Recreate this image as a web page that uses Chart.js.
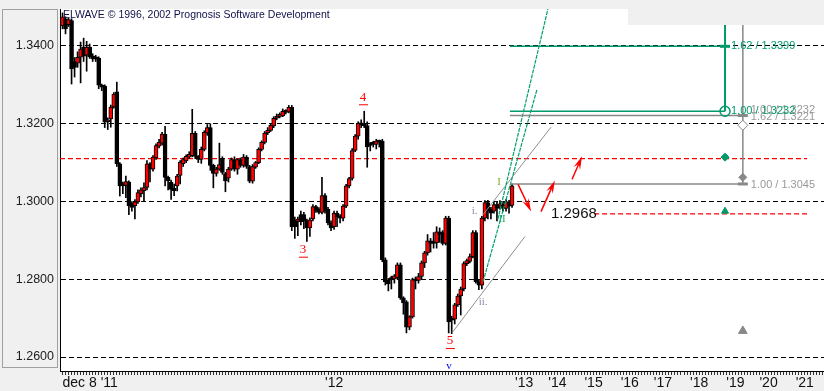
<!DOCTYPE html>
<html>
<head>
<meta charset="utf-8">
<script src="https://cdn.jsdelivr.net/npm/chart.js@4"></script>
<style>
  html, body { margin: 0; padding: 0; background: #f0f0f0; }
  canvas { display: block; }
</style>
</head>
<body>
<canvas id="waveChart" width="824" height="391"></canvas>
<script>
// -------------------------------
// 1) DATA
// -------------------------------

// hourly candles (EUR/USD-like price)
const opens = [
  1.3452, 1.3470, 1.3455, 1.3465, 1.3360, 1.3356, 1.3371, 1.3397, 1.3376, 1.3397,
  1.3374, 1.3372, 1.3369, 1.3299, 1.3297, 1.3205, 1.3212, 1.3243, 1.3282, 1.3097,
  1.3046, 1.3041, 1.3050, 1.2995, 1.2989, 1.2999, 1.3020, 1.3028, 1.3036, 1.3097,
  1.3083, 1.3112, 1.3142, 1.3150, 1.3173, 1.3062, 1.3050, 1.3034, 1.3040, 1.3067,
  1.3097, 1.3104, 1.3114, 1.3118, 1.3175, 1.3116, 1.3108, 1.3134, 1.3176, 1.3190,
  1.3093, 1.3072, 1.3083, 1.3111, 1.3072, 1.3060, 1.3083, 1.3108, 1.3083, 1.3108,
  1.3093, 1.3114, 1.3090, 1.3052, 1.3088, 1.3100, 1.3134, 1.3152, 1.3176, 1.3183,
  1.3194, 1.3214, 1.3219, 1.3220, 1.3232, 1.3230, 1.3242, 1.2953, 1.2948, 1.2966,
  1.2966, 1.2950, 1.2932, 1.2955, 1.2987, 1.2980, 1.2972, 1.3015, 1.2980, 1.2945,
  1.2935, 1.2970, 1.2962, 1.2957, 1.2988, 1.3040, 1.3059, 1.3131, 1.3168, 1.3201,
  1.3200, 1.3195, 1.3149, 1.3152, 1.3147, 1.3155, 1.3155, 1.2850, 1.2798, 1.2804,
  1.2801, 1.2804, 1.2837, 1.2752, 1.2742, 1.2677, 1.2703, 1.2801, 1.2797, 1.2807,
  1.2842, 1.2868, 1.2899, 1.2897, 1.2894, 1.2922, 1.2920, 1.2892, 1.2957, 1.2700,
  1.2697, 1.2734, 1.2757, 1.2775, 1.2840, 1.2846, 1.2858, 1.2920, 1.2793, 1.2785,
  1.2957, 1.2997, 1.2980, 1.2975, 1.2992, 1.2988, 1.2994, 1.2982, 1.2998, 1.2990
];
const highs = [
  1.3485, 1.3475, 1.3472, 1.3470, 1.3370, 1.3385, 1.3410, 1.3420, 1.3412, 1.3405,
  1.3380, 1.3376, 1.3372, 1.3302, 1.3300, 1.3215, 1.3248, 1.3280, 1.3307, 1.3100,
  1.3050, 1.3065, 1.3053, 1.3000, 1.3005, 1.3030, 1.3035, 1.3048, 1.3105, 1.3100,
  1.3118, 1.3148, 1.3160, 1.3178, 1.3193, 1.3065, 1.3055, 1.3045, 1.3070, 1.3105,
  1.3112, 1.3120, 1.3128, 1.3237, 1.3180, 1.3118, 1.3140, 1.3182, 1.3198, 1.3200,
  1.3096, 1.3088, 1.3150, 1.3115, 1.3075, 1.3088, 1.3112, 1.3115, 1.3110, 1.3112,
  1.3121, 1.3118, 1.3093, 1.3095, 1.3103, 1.3138, 1.3156, 1.3180, 1.3190, 1.3200,
  1.3218, 1.3225, 1.3228, 1.3238, 1.3236, 1.3247, 1.3247, 1.2960, 1.2960, 1.2975,
  1.2972, 1.2955, 1.2958, 1.2992, 1.2990, 1.2984, 1.3062, 1.3020, 1.2985, 1.2950,
  1.2975, 1.2975, 1.2966, 1.2992, 1.3044, 1.3062, 1.3136, 1.3172, 1.3205, 1.3210,
  1.3232, 1.3205, 1.3152, 1.3155, 1.3160, 1.3158, 1.3160, 1.2855, 1.2802, 1.2808,
  1.2812, 1.2842, 1.2842, 1.2755, 1.2745, 1.2706, 1.2803, 1.2806, 1.2815, 1.2847,
  1.2872, 1.2915, 1.2905, 1.2920, 1.2935, 1.2932, 1.2925, 1.2962, 1.2962, 1.2705,
  1.2738, 1.2762, 1.2780, 1.2845, 1.2852, 1.2865, 1.2925, 1.2925, 1.2797, 1.2962,
  1.3002, 1.3003, 1.2985, 1.2998, 1.3000, 1.3002, 1.3000, 1.3005, 1.3003, 1.3045
];
const lows = [
  1.3444, 1.3431, 1.3450, 1.3302, 1.3320, 1.3345, 1.3305, 1.3360, 1.3335, 1.3368,
  1.3360, 1.3360, 1.3290, 1.3285, 1.3190, 1.3185, 1.3191, 1.3240, 1.3090, 1.3014,
  1.3020, 1.3010, 1.2966, 1.2975, 1.2955, 1.2995, 1.3012, 1.3000, 1.3030, 1.3050,
  1.3078, 1.3108, 1.3138, 1.3145, 1.3040, 1.3030, 1.3005, 1.3015, 1.3027, 1.3045,
  1.3090, 1.3100, 1.3110, 1.3115, 1.3110, 1.3100, 1.3098, 1.3130, 1.3170, 1.3080,
  1.3035, 1.3065, 1.3080, 1.3070, 1.3025, 1.3050, 1.3080, 1.3078, 1.3070, 1.3088,
  1.3088, 1.3085, 1.3048, 1.3047, 1.3085, 1.3097, 1.3130, 1.3148, 1.3172, 1.3180,
  1.3190, 1.3210, 1.3215, 1.3218, 1.3225, 1.3228, 1.2925, 1.2905, 1.2912, 1.2940,
  1.2930, 1.2897, 1.2910, 1.2950, 1.2972, 1.2968, 1.2968, 1.2970, 1.2940, 1.2925,
  1.2928, 1.2935, 1.2945, 1.2950, 1.2984, 1.3035, 1.3055, 1.3128, 1.3160, 1.3190,
  1.3190, 1.3088, 1.3130, 1.3140, 1.3135, 1.3140, 1.2845, 1.2785, 1.2770, 1.2775,
  1.2790, 1.2800, 1.2748, 1.2710, 1.2662, 1.2670, 1.2700, 1.2775, 1.2790, 1.2800,
  1.2830, 1.2862, 1.2870, 1.2880, 1.2880, 1.2895, 1.2888, 1.2888, 1.2662, 1.2660,
  1.2685, 1.2730, 1.2708, 1.2770, 1.2835, 1.2842, 1.2855, 1.2790, 1.2773, 1.2775,
  1.2950, 1.2955, 1.2955, 1.2970, 1.2950, 1.2980, 1.2975, 1.2975, 1.2970, 1.2985
];
const closes = [
  1.3475, 1.3444, 1.3468, 1.3341, 1.3345, 1.3371, 1.3392, 1.3374, 1.3397, 1.3372,
  1.3367, 1.3366, 1.3299, 1.3294, 1.3204, 1.3210, 1.3243, 1.3276, 1.3097, 1.3040,
  1.3040, 1.3051, 1.2989, 1.2985, 1.2999, 1.3023, 1.3030, 1.3036, 1.3097, 1.3083,
  1.3114, 1.3144, 1.3152, 1.3173, 1.3062, 1.3053, 1.3031, 1.3028, 1.3065, 1.3101,
  1.3108, 1.3116, 1.3121, 1.3175, 1.3116, 1.3108, 1.3134, 1.3178, 1.3190, 1.3093,
  1.3072, 1.3083, 1.3095, 1.3075, 1.3053, 1.3083, 1.3108, 1.3083, 1.3108, 1.3093,
  1.3114, 1.3090, 1.3052, 1.3090, 1.3100, 1.3134, 1.3152, 1.3176, 1.3183, 1.3196,
  1.3214, 1.3219, 1.3224, 1.3232, 1.3229, 1.3242, 1.2935, 1.2935, 1.2955, 1.2948,
  1.2950, 1.2932, 1.2953, 1.2987, 1.2977, 1.2972, 1.3015, 1.2975, 1.2945, 1.2932,
  1.2970, 1.2960, 1.2957, 1.2988, 1.3040, 1.3059, 1.3131, 1.3168, 1.3201, 1.3197,
  1.3195, 1.3140, 1.3144, 1.3147, 1.3155, 1.3152, 1.2850, 1.2793, 1.2788, 1.2799,
  1.2809, 1.2837, 1.2752, 1.2739, 1.2677, 1.2703, 1.2799, 1.2796, 1.2807, 1.2842,
  1.2868, 1.2899, 1.2892, 1.2892, 1.2922, 1.2915, 1.2892, 1.2957, 1.2690, 1.2695,
  1.2734, 1.2757, 1.2775, 1.2840, 1.2848, 1.2858, 1.2920, 1.2793, 1.2785, 1.2957,
  1.2997, 1.2975, 1.2970, 1.2992, 1.2982, 1.2994, 1.2982, 1.3000, 1.2988, 1.3040
];

// axes
const yTicks = [1.26, 1.28, 1.30, 1.32, 1.34];
const xTickPos = [0, 87, 150, 161, 173, 185, 196, 208, 220, 231, 243];
const xTickLabels = ["dec 8 '11", "'12", "'13", "'14", "'15", "'16", "'17", "'18", "'19", "'20", "'21"];

// levels (price)
const supportLevel = 1.3110;
const targetLevel = 1.2968;
const greenFibLevels = [1.3399, 1.3232];
const greyFibLevels = [1.3221, 1.3045];
const greenFibText = ["1.62 / 1.3399", "1.00 / 1.3232"];
const greyFibText = ["1.00 / 1.3232", "1.62 / 1.3221", "1.00 / 1.3045"];
const greyFibTextLevels = [1.3232, 1.3221, 1.3045];

// columns (bar index units)
const fibStartX = 148.3;
const greenColX = 219.6;
const greyColX = 225.5;
const levelEndX = 246.8;
const targetStartX = 176.2;
const targetTextX = 161.9;

// markers on the fib columns
const greenDashMarks = [1.3399];
const greenRingMarks = [1.3232];
const greenDiamondMarks = [1.3114];
const greenTriangleMarks = [1.2975];
const greyDashMarks = [1.3221, 1.3045];
const greyHollowMarks = [1.3196];
const greyDiamondMarks = [1.3062];
const greyTriangleMarks = [1.2667];

// trend lines [x, price]
const greenTrendA = [[139.4, 1.2794], [157.3, 1.3289]];
const greenTrendB = [[144.3, 1.2954], [160.9, 1.3495]];
const greyTrendLow = [[129.1, 1.2662], [153.3, 1.2910]];
const greyTrendHigh = [[139.4, 1.2966], [161.9, 1.3191]];

// red arrows [x1, p1, x2, p2]
const arrows = [
  [151.0, 1.3044, 155.3, 1.2974],
  [158.6, 1.2974, 163.2, 1.3054],
  [168.9, 1.3057, 172.2, 1.3116]
];

// wave count labels
const waveText = ["3", "4", "5", "v", "I", "II", "i.", "ii."];
const waveX = [79.7, 99.6, 128.4, 128.1, 144.7, 145.7, 136.6, 139.4];
const waveY = [1.2876, 1.3268, 1.2641, 1.2577, 1.3049, 1.2954, 1.2976, 1.2742];
const waveColor = ["#ff0000", "#ff0000", "#ff0000", "#0000ff", "#88aa33", "#22aa66", "#8a88a8", "#8a88a8"];

const GREEN = "#00996b";
const GREY = "#888888";


// -------------------------------
// 2) HELPERS
// -------------------------------

function seg(points) {
  return points.map(p => ({ x: p[0], y: p[1] }));
}

function markerSet(values, xPos, style, radius, fill, stroke, bw) {
  return {
    type: "line",
    data: values.map(v => ({ x: xPos, y: v })),
    showLine: false,
    pointStyle: style,
    pointRadius: radius,
    pointBackgroundColor: fill,
    pointBorderColor: stroke,
    pointBorderWidth: bw,
    order: 0
  };
}

function lineSet(points, color, width, dash, order) {
  return {
    type: "line",
    data: seg(points),
    borderColor: color,
    borderWidth: width,
    borderDash: dash || [],
    pointRadius: 0,
    fill: false,
    tension: 0,
    order: order
  };
}

function drawArrow(ctx, x1, y1, x2, y2) {
  const a = Math.atan2(y2 - y1, x2 - x1);
  const len = 13, half = 3.5;
  ctx.beginPath();
  ctx.moveTo(x1, y1);
  ctx.lineTo(x2 - Math.cos(a) * len * 0.6, y2 - Math.sin(a) * len * 0.6);
  ctx.stroke();
  ctx.beginPath();
  ctx.moveTo(x2, y2);
  ctx.lineTo(x2 - len * Math.cos(a) + half * Math.sin(a), y2 - len * Math.sin(a) - half * Math.cos(a));
  ctx.lineTo(x2 - len * Math.cos(a) * 0.65, y2 - len * Math.sin(a) * 0.65);
  ctx.lineTo(x2 - len * Math.cos(a) - half * Math.sin(a), y2 - len * Math.sin(a) + half * Math.cos(a));
  ctx.closePath();
  ctx.fill();
}


// -------------------------------
// 3) DECORATION PLUGIN
// -------------------------------

const elwavePlugin = {
  id: "elwave",
  beforeDraw(chart) {
    const { ctx, chartArea: a } = chart;
    ctx.save();
    ctx.fillStyle = "#f0f0f0";
    ctx.fillRect(0, 0, chart.width, chart.height);
    ctx.fillStyle = "#ffffff";
    ctx.fillRect(a.left, a.top, a.right - a.left, a.bottom - a.top);
    // y label panel frame
    ctx.strokeStyle = "#a0a0a0";
    ctx.lineWidth = 1;
    ctx.strokeRect(2.5, a.top + 0.5, a.left - 5, 358);
    ctx.restore();
  },
  afterDatasetsDraw(chart) {
    const { ctx, chartArea: a } = chart;
    const xs = chart.scales.x, ys = chart.scales.y;
    const px = v => xs.getPixelForValue(v);
    const py = v => ys.getPixelForValue(v);

    ctx.save();

    // red arrows
    ctx.strokeStyle = "#ff0000";
    ctx.fillStyle = "#ff0000";
    ctx.lineWidth = 1.5;
    arrows.forEach(r => drawArrow(ctx, px(r[0]), py(r[1]), px(r[2]), py(r[3])));

    // fib texts
    ctx.font = "11px 'Liberation Sans', Arial, sans-serif";
    ctx.textBaseline = "middle";
    ctx.textAlign = "left";
    ctx.fillStyle = "#999999";
    greyFibText.forEach((t, i) => ctx.fillText(t, px(greyColX) + 8, py(greyFibTextLevels[i]) + (i === 0 ? -1 : 1)));
    ctx.fillStyle = GREEN;
    greenFibText.forEach((t, i) => ctx.fillText(t, px(greenColX) + 6, py(greenFibLevels[i])));

    // target label
    ctx.fillStyle = "#111111";
    ctx.font = "15px 'Liberation Sans', Arial, sans-serif";
    ctx.fillText(targetLevel.toFixed(4), px(targetTextX), py(targetLevel));

    // wave labels
    ctx.textAlign = "center";
    waveText.forEach((t, i) => {
      const big = i < 3;
      ctx.font = (big ? "13px" : "11px") + " 'Liberation Serif', 'Times New Roman', serif";
      ctx.fillStyle = waveColor[i];
      const x = px(waveX[i]), y = py(waveY[i]);
      ctx.fillText(t, x, y);
      if (big) {
        ctx.fillRect(x - 4, y + 7, 9, 1);
      }
    });

    // grey corner box
    ctx.fillStyle = "#f0f0f0";
    ctx.fillRect(628, 0, chart.width - 628, 25);

    // copyright line
    ctx.font = "10.5px 'Liberation Sans', Arial, sans-serif";
    ctx.textAlign = "left";
    ctx.fillStyle = "#10104a";
    ctx.fillText("ELWAVE \u00a9 1996, 2002 Prognosis Software Development", a.left + 3, a.top + 6);

    ctx.restore();
  }
};


// -------------------------------
// 4) CHART
// -------------------------------

function renderWaveChart() {
  const canvas = document.getElementById("waveChart");
  const ctx = canvas.getContext("2d");

  const bodies = opens.map((o, i) => ({ x: i, y: [o, closes[i]] }));
  const wicks = highs.map((h, i) => ({ x: i, y: [lows[i], h] }));
  const bodyColors = opens.map((o, i) => (closes[i] >= o ? "#ff0000" : "#000000"));

  new Chart(ctx, {
    type: "bar",
    data: {
      datasets: [
        // markers
        markerSet(greenDashMarks, greenColX, "line", 5, GREEN, GREEN, 3),
        markerSet(greenRingMarks, greenColX, "circle", 5, "rgba(0,0,0,0)", GREEN, 1.5),
        markerSet(greenDiamondMarks, greenColX, "rectRot", 4, GREEN, GREEN, 1),
        markerSet(greenTriangleMarks, greenColX, "triangle", 4, GREEN, GREEN, 1),
        markerSet(greyDashMarks, greyColX, "line", 5, GREY, GREY, 3),
        markerSet(greyHollowMarks, greyColX, "rectRot", 5, "#ffffff", GREY, 1),
        markerSet(greyDiamondMarks, greyColX, "rectRot", 4, GREY, GREY, 1),
        markerSet(greyTriangleMarks, greyColX, "triangle", 5, GREY, GREY, 1),

        // fib lines
        lineSet([[fibStartX, greenFibLevels[0]], [greenColX, greenFibLevels[0]]], GREEN, 1.5, null, 1),
        lineSet([[fibStartX, greenFibLevels[1]], [greenColX, greenFibLevels[1]]], GREEN, 1.5, null, 1),
        lineSet([[fibStartX, greyFibLevels[0]], [greyColX, greyFibLevels[0]]], GREY, 1.5, null, 1),
        lineSet([[fibStartX, greyFibLevels[1]], [greyColX, greyFibLevels[1]]], GREY, 1.5, null, 1),
        lineSet([[greenColX, 1.3495], [greenColX, greenFibLevels[1]]], GREEN, 2, null, 1),
        lineSet([[greyColX, 1.3495], [greyColX, greyFibLevels[1]]], GREY, 1.5, null, 1),

        // trend channel
        lineSet(greenTrendA, "#00a070", 1.2, [4, 1], 1),
        lineSet(greenTrendB, "#00a070", 1.2, [4, 1], 1),
        lineSet(greyTrendLow, "#909090", 1, null, 1),
        lineSet(greyTrendHigh, "#909090", 1, null, 1),

        // candles
        {
          label: "body",
          data: bodies,
          backgroundColor: bodyColors,
          borderColor: "#000000",
          borderWidth: 1,
          borderSkipped: false,
          barThickness: 4,
          minBarLength: 2,
          grouped: false,
          order: 2
        },
        {
          label: "wick",
          data: wicks,
          backgroundColor: "#000000",
          barThickness: 1,
          grouped: false,
          order: 3
        },

        // red dashed levels
        lineSet([[-0.83, supportLevel], [levelEndX, supportLevel]], "#ff0000", 1.2, [5, 3], 4),
        lineSet([[targetStartX, targetLevel], [levelEndX, targetLevel]], "#ff0000", 1.2, [5, 3], 4)
      ]
    },
    options: {
      responsive: false,
      animation: false,
      devicePixelRatio: 1,
      layout: { autoPadding: false, padding: { top: 9, left: 0, right: 0, bottom: 0 } },
      plugins: {
        legend: { display: false },
        tooltip: { enabled: false }
      },
      scales: {
        x: {
          type: "linear",
          min: -0.83,
          max: 252.4,
          offset: false,
          afterFit: s => {
            s.height = 20;
            s.paddingLeft = 0;
            s.paddingRight = 0;
          },
          afterBuildTicks: s => {
            const t = [];
            for (let v = 0; v <= 252; v++) t.push({ value: v });
            s.ticks = t;
          },
          ticks: {
            autoSkip: false,
            maxRotation: 0,
            minRotation: 0,
            align: "start",
            padding: 0,
            color: "#111111",
            font: { family: "'Liberation Sans', Arial, sans-serif", size: 14 },
            callback: v => {
              const k = xTickPos.indexOf(v);
              return k >= 0 ? xTickLabels[k] : "";
            }
          },
          grid: {
            drawOnChartArea: false,
            drawTicks: true,
            tickLength: 4,
            color: "#333333",
            offset: false
          },
          border: { display: true, color: "#000000" }
        },
        y: {
          type: "linear",
          min: 1.2564,
          max: 1.3495,
          afterFit: s => {
            s.width = 60;
            s.paddingTop = 0;
            s.paddingBottom = 0;
          },
          afterBuildTicks: s => { s.ticks = yTicks.map(v => ({ value: v })); },
          ticks: {
            padding: 6,
            color: "#202020",
            font: { family: "'Liberation Sans', Arial, sans-serif", size: 12.5 },
            callback: v => v.toFixed(4)
          },
          grid: {
            drawTicks: false,
            color: "#000000",
            lineWidth: 1
          },
          border: { display: true, color: "#000000", width: 1, dash: [5, 3] }
        }
      }
    },
    plugins: [elwavePlugin]
  });
}


// -------------------------------
// 5) RENDER ON LOAD
// -------------------------------

document.addEventListener("DOMContentLoaded", renderWaveChart);
</script>
</body>
</html>
